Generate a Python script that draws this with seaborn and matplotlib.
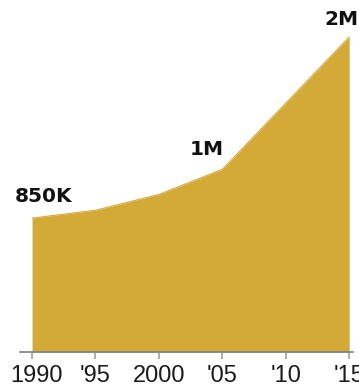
import matplotlib
matplotlib.use("Agg")
import matplotlib.pyplot as plt
import matplotlib.transforms as mtransforms
import seaborn as sns
import pandas as pd

years = [1990, 1995, 2000, 2005, 2010, 2015]
values = [850000, 900000, 1000000, 1160000, 1580000, 2000000]
tick_labels = ["1990", "'95", "2000", "'05", "'10", "'15"]
annotations = [(1990, 850000, "850K"), (2005, 1160000, "1M"), (2015, 2000000, "2M")]

sns.set_style("white")
plt.rcParams['font.family'] = ['Liberation Sans', 'DejaVu Sans']

df = pd.DataFrame({"year": years, "value": values})
gold = "#D3A937"

fig = plt.figure(figsize=(3.59, 3.88), dpi=100)
W, H = 359, 388
ax = fig.add_axes([20 / W, 36 / H, 333 / W, 352 / H])

sns.lineplot(data=df, x="year", y="value", ax=ax, color=gold, linewidth=0.8)
ax.fill_between(df["year"], df["value"], 0, color=gold, linewidth=0)

ax.set_xlim(1989.05, 2015.3)
ax.set_ylim(0, 2000000 * 352 / 315)
ax.set_xticks(years)
ax.set_xticklabels(tick_labels, fontsize=17, color="#1a1a1a")
ax.set_yticks([])
ax.set_xlabel("")
ax.set_ylabel("")
for s in ["top", "right", "left"]:
    ax.spines[s].set_visible(False)
ax.spines["bottom"].set_color("#808080")
ax.spines["bottom"].set_linewidth(1.2)
ax.tick_params(axis="x", length=5, width=1.2, color="#a0a0a0", pad=4, bottom=True)

# nudge first label right a little, as in the reference
first = ax.get_xticklabels()[0]
first.set_transform(first.get_transform() + mtransforms.ScaledTranslation(4 / 100, 0, fig.dpi_scale_trans))

offsets = {"850K": (-17, 16, "left"), "1M": (1, 14, "right"), "2M": (9, 12, "right")}
for x, y, t in annotations:
    dx, dy, ha = offsets[t]
    ax.annotate(t, (x, y), xytext=(dx * 0.72, dy * 0.72), textcoords="offset points",
                ha=ha, va="baseline", fontsize=14.5, fontweight="bold", color="#111111",
                family=["DejaVu Sans"], annotation_clip=False)

fig.savefig("out.png", dpi=100)
